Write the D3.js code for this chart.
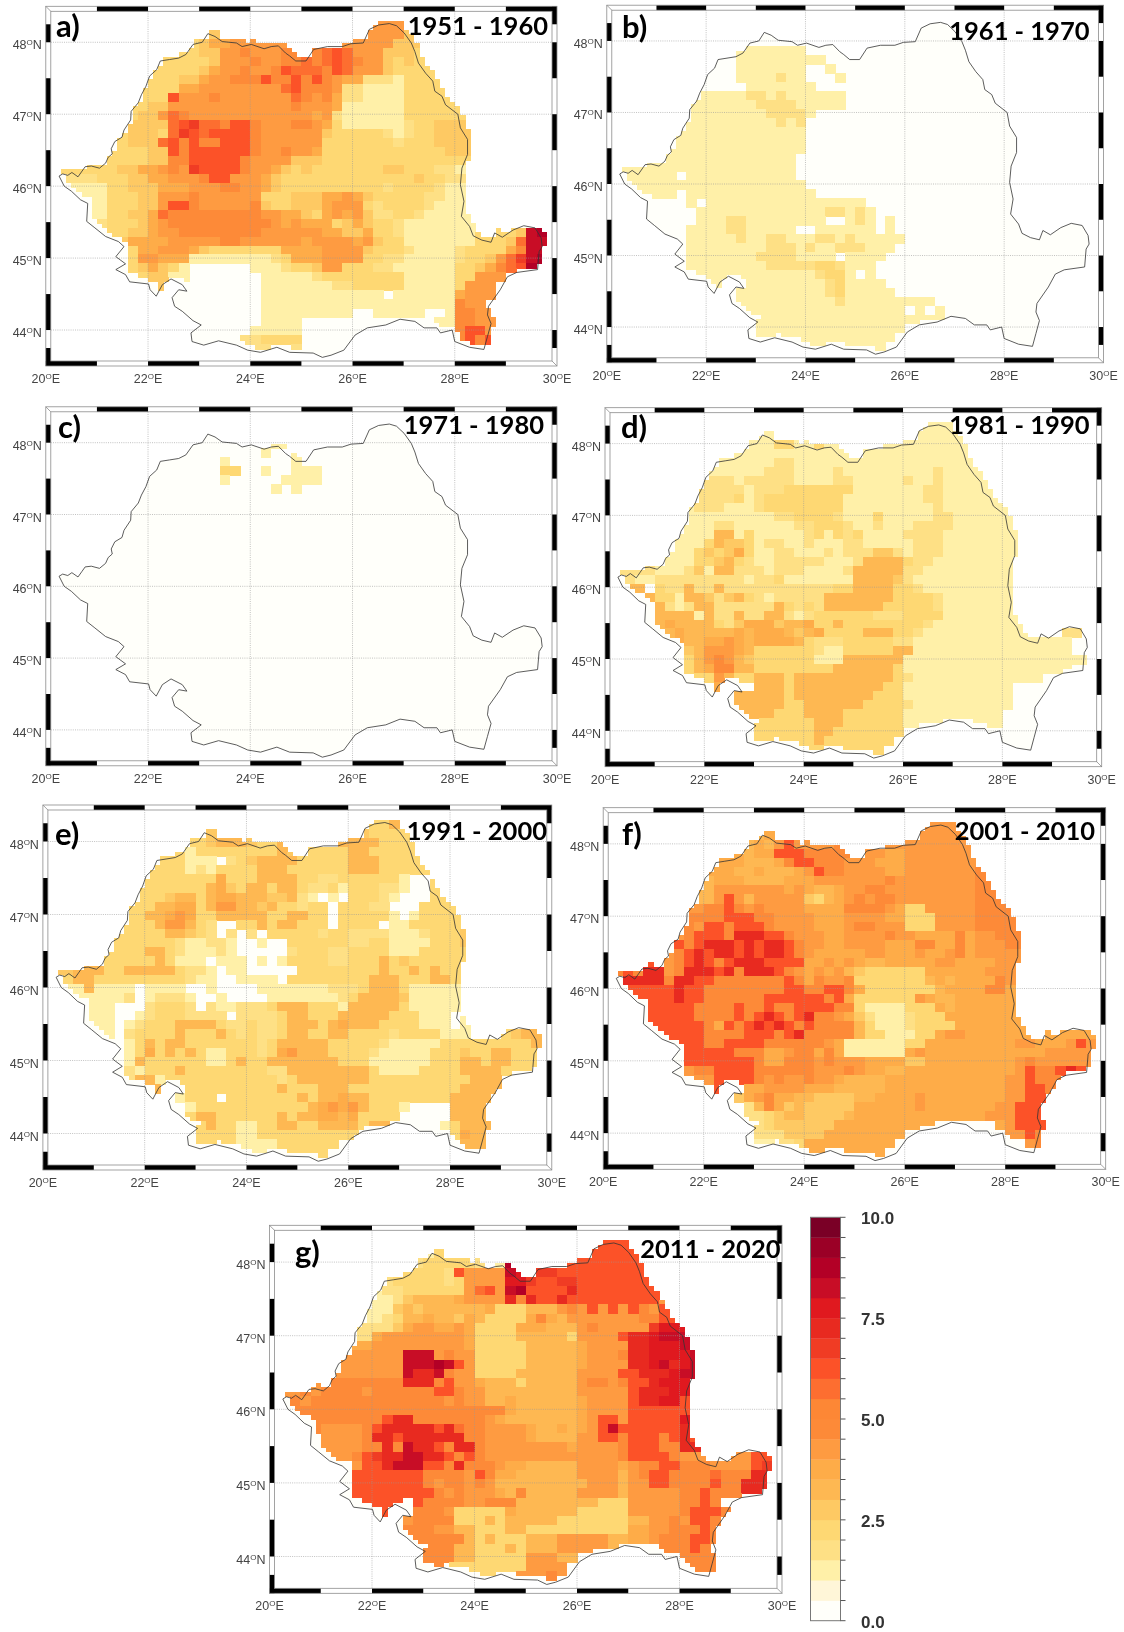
<!DOCTYPE html>
<html><head><meta charset="utf-8">
<script src="https://cdn.jsdelivr.net/npm/d3@7"></script>
<style>html,body{margin:0;padding:0;background:#fff}svg{display:block;filter:blur(0.35px)}</style>
</head><body><svg id="c" width="1124" height="1632"></svg>
<script>
const periods=["1951 - 1960","1961 - 1970","1971 - 1980","1981 - 1990","1991 - 2000","2001 - 2010","2011 - 2020"];
const letters=["a)","b)","c)","d)","e)","f)","g)"];
const levelColors=["#fffffa","#fff6d8","#fff0a8","#fee085","#fed873","#fec963","#feb852","#feac48","#fe9b41","#fd8a38","#fd8735","#fd6e30","#fc5228","#f03c24","#e82a20","#e0191f","#c80d26","#b30026","#9b0026","#7a0026"];
const colorbarLabels=[0,2.5,5,7.5,10];
const lonTicks=[20,22,24,26,28,30];
const latTicks=[44,45,46,47,48];
const outlineLon=[20.26,20.33,20.43,20.51,20.63,20.71,20.77,20.89,21.05,21.17,21.22,21.30,21.28,21.35,21.49,21.53,21.66,21.67,21.81,21.87,21.96,22.03,22.17,22.24,22.42,22.60,22.74,22.88,23.06,23.17,23.31,23.45,23.73,23.84,24.02,24.27,24.41,24.55,24.69,24.77,24.89,25.09,25.24,25.51,25.80,25.97,26.21,26.33,26.51,26.72,26.86,27.01,27.15,27.22,27.29,27.43,27.57,27.61,27.75,27.82,28.06,28.11,28.25,28.25,28.14,28.11,28.18,28.13,28.29,28.36,28.53,28.71,28.78,28.93,29.14,29.35,29.57,29.69,29.71,29.65,29.62,29.21,29.03,28.89,28.66,28.64,28.71,28.64,28.57,28.29,28.00,27.95,27.72,27.65,27.40,27.22,26.93,26.65,26.29,26.05,25.83,25.58,25.41,25.23,24.77,24.52,24.20,23.95,23.73,23.38,23.09,22.86,22.84,23.04,22.88,22.67,22.52,22.47,22.60,22.76,22.67,22.45,22.28,22.16,22.04,22.01,21.64,21.56,21.37,21.56,21.37,21.53,21.42,21.17,20.96,20.80,20.82,20.68,20.50,20.36];
const outlineLat=[46.14,46.17,46.15,46.19,46.13,46.21,46.27,46.28,46.25,46.32,46.40,46.45,46.52,46.62,46.68,46.78,46.92,47.04,47.16,47.27,47.39,47.53,47.62,47.74,47.76,47.78,47.83,47.97,48.00,48.12,48.08,48.01,47.99,47.94,47.97,47.91,47.94,47.95,47.85,47.81,47.74,47.74,47.90,47.94,47.94,47.98,47.99,48.18,48.24,48.26,48.23,48.13,47.99,47.87,47.71,47.57,47.46,47.32,47.25,47.13,47.00,46.81,46.65,46.44,46.25,46.02,45.79,45.58,45.44,45.31,45.25,45.22,45.35,45.29,45.39,45.45,45.42,45.28,45.16,45.09,44.84,44.80,44.74,44.56,44.33,44.21,44.09,43.91,43.73,43.76,43.84,44.00,43.96,44.03,44.03,44.12,44.15,44.07,44.03,43.93,43.72,43.65,43.62,43.68,43.69,43.76,43.69,43.72,43.79,43.85,43.79,43.84,43.96,44.07,44.13,44.26,44.33,44.45,44.56,44.54,44.63,44.71,44.63,44.47,44.56,44.64,44.67,44.77,44.84,44.92,45.02,45.16,45.23,45.30,45.42,45.51,45.76,45.81,45.93,46.00];

// Class index per block: rows from 48.3N southward, blocks = [20.2-21][21-22]...[29-29.8]E
const gridA=[
"0000 00000 00000 00000 00000 00000 08888",
"0000 00000 00000 05000 00000 00000 88888 50000",
"0000 00000 00044 57788 88880 00008 88885 55400",
"0000 00000 04444 55889 88899 09bcb 88855 54400",
"0000 00000 44444 45888 98899 b9bcb 98854 54440",
"0000 00000 44444 57889 889cb bb9cb 88854 44444",
"0000 00000 44455 78899 9c99c 9c987 73332 44444",
"0000 00004 44477 88888 888bc 99983 32222 44444 40000",
"0000 00004 44c88 89888 8888b 98973 32222 44444 44000",
"0000 00044 55888 88888 88889 88872 22222 44444 44400",
"0000 00445 58b98 88888 88888 87832 22222 44444 44500",
"0000 00455 55bcd bb9cc 98889 98742 22222 34455 55000",
"0000 04455 54bdc bcccc 98888 88544 44432 34455 55500",
"0000 04455 5bc9c 99ccc 98888 88444 44443 44455 55000",
"0000 44444 55c9c ccccc 98898 87444 44444 44445 55000",
"0000 44444 5599c cccc9 88885 55444 44444 44444 44000",
"4444 44557 7898d cccc9 88754 54444 44455 44433 22000",
"3333 44455 77888 9cc88 87544 44444 44444 45443 32000",
"0222 24455 57778 88998 87544 44444 44434 44432 22000",
"0022 24445 58889 88888 84445 55778 75444 44332 22000",
"0022 24445 58cc9 88888 95445 55788 84344 44322 22000",
"0002 24455 7b999 99999 98877 54787 85334 43222 22000",
"0002 34445 78999 99999 99878 77745 75443 22222 22000",
"0000 34455 78899 99999 98888 88775 57443 22222 22444 45gh",
"0000 34577 77888 88998 88888 78888 78544 22222 22444 5bgg",
"0000 00047 78887 54444 44477 77888 85444 32222 34444 79gg",
"0000 00048 87772 22222 22347 77888 84433 22222 34458 bdgh",
"0000 00045 75420 00000 22234 45884 44332 22222 44579 bchh",
"0000 00004 55220 00000 02222 23444 44444 22222 44888",
"0000 00000 05000 00000 02222 22233 44444 22222 48880",
"0000 00000 00000 00000 02222 22222 22202 22222 78880",
"0000 00000 00000 00000 02222 22222 22222 22222 98800",
"0000 00000 00000 00000 02222 22222 00222 22002 99880",
"0000 00000 00000 00000 02222 00000 00002 20022 99888",
"0000 00000 00000 00000 22222 00000 00000 00000 9cc88",
"0000 00000 00000 00003 34444 00000 00000 00000 9c9c0",
"0000 00000 00000 00000 33433 00000 00000 00000 00890",
"0"];
const gridB=[
"0","0","0",
"0000 00000 00022 22222",
"0000 00000 00022 22222 22000",
"0000 00000 00022 22222 00200",
"0000 00000 00022 22322 00020",
"0000 00000 00002 22222 20000",
"0000 00002 22223 32322 22220",
"0000 00022 22222 33332 22220",
"0000 00222 22222 23333 20000",
"0000 00222 22222 22323",
"0000 00222 22222 22222",
"0000 02222 22222 22222",
"0000 02222 22222 22222",
"0000 22222 22222 22220",
"2222 22222 22222 22220",
"2222 22022 22222 22220",
"2222 22222 22222 22222",
"0022 22022 22222 22222 20000",
"0000 00020 22222 22222 22222 20000",
"0000 00002 22222 22222 22332 32000",
"0000 00002 22332 22222 22002 32020",
"0000 00022 22332 22220 02222 22020",
"0000 00022 22232 23322 23323 22222",
"0000 00022 22222 23332 32233 32220",
"0000 00022 22222 33332 22202 22200",
"0000 00022 22222 23333 34432 22000",
"0000 00002 22222 22222 23442 02000",
"0000 00000 22202 22222 22342 22200",
"0000 00000 00022 22222 22342 22220",
"0000 00000 00022 22222 22232 22222 22200",
"0000 00000 00002 22222 22222 22222 02020",
"0000 00000 00000 22222 22222 22222 22220",
"0000 00000 00000 22222 22222 22222",
"0000 00000 00000 22222 22222 22220",
"0000 00000 00000 00000 22202 22200",
"0000 00000 00000 00000 00000 00220"];
const gridC=[
"0","0",
"0000 00000 00000 00000 00220",
"0000 00000 00000 00000 02002",
"0000 00000 00000 00200 00002",
"0000 00000 00000 00440 02002 22000",
"0000 00000 00000 00200 00022 22000",
"0000 00000 00000 00000 00202",
"0"];
const gridD=[
"0000 00000 00000 00000 00000 00000 00222",
"0000 00000 00000 22000 00000 00000 22222 22",
"0000 00000 00022 22442 24222 00022 22222 22200",
"0000 00000 02222 22222 22222 22222 22222 22220",
"0000 00000 22222 22332 22222 22222 22222 22220",
"0000 00002 22222 23332 22232 22222 22232 22222",
"0000 00003 33323 33332 22233 22222 32232 22222 2",
"0000 00023 33332 33344 44444 22222 22332 22222 22",
"0000 00023 33342 34444 44442 22222 22332 22222 22",
"0000 00023 33222 34444 44442 22222 22232 22222 22",
"0000 00222 22222 22334 44432 22422 22233 22222 20",
"0000 02222 23322 22223 34443 22322 23333 22222 22",
"0000 02222 26624 22222 34243 42222 33332 22222 22",
"0000 02222 46554 23322 32223 32222 23332 22222 22",
"0000 22224 54574 22332 22323 33553 23332 22222 22",
"2200 22224 45643 22333 33222 36666 43322 22222 2",
"3333 22235 26633 32333 22223 66666 33222 22222 2",
"0322 33333 33332 33422 22222 66665 32222 22222 2",
"0660 43363 36333 33333 33344 66664 43222 22222 2",
"0006 44266 53564 32333 33666 66664 44432 22222 2",
"0000 63236 63333 33643 43666 66644 44432 22222 22",
"0000 66662 63363 36632 34444 44333 44442 22222 22",
"0000 67666 64357 77566 74464 44444 44322 22222 22",
"0000 06766 66676 77765 67444 46664 43222 22222 22220 0330",
"0000 00766 77876 77776 43334 44443 32222 22222 22222 2200",
"0000 00056 88876 44444 43224 44446 62222 22222 22222 2200",
"0000 00046 89865 44444 42226 66666 22222 22222 22222 2222",
"0000 00046 79966 44444 44466 66664 22222 22222 22222 2200",
"0000 00004 48644 66646 66666 66664 32222 22222 22220",
"0000 00000 07000 66646 66666 66644 22222 22222 20000",
"0000 00000 00066 66646 66666 66444 22222 22222 20000",
"0000 00000 00066 66644 66666 64444 32222 22222 20000",
"0000 00000 00006 66444 66664 44444 22222 22222",
"0000 00000 00000 44444 46664 44444 22220 00222",
"0000 00000 00000 44444 46644 44444",
"0000 00000 00000 44444 46444 44440",
"0000 00000 00000 00000 44404 44400",
"0000 00000 00000 00000 00000 00440"];
const gridE=[
"0000 00000 00000 00000 00000 00000 00446",
"0000 00000 00000 05000 00000 00000 55444 44",
"0000 00000 00044 45666 54466 00006 66644 44400",
"0000 00000 04442 44444 44465 44444 66444 44440",
"0000 00000 44442 22034 56666 44444 66644 44440",
"0000 00004 44442 32444 46664 44444 66644 44444",
"0000 00044 44444 44744 46666 44334 44444 20044 4",
"0000 00044 44444 46754 66466 43342 44433 20044 44",
"0000 00444 44566 46776 66556 32020 44432 00044 44",
"0000 04444 46677 46886 65644 34404 44330 00444 44",
"0000 04444 66787 44666 66446 64404 44442 02444 44",
"0000 44444 46886 43004 46466 44404 44402 24444 45",
"0000 04444 44665 43030 30444 44344 33332 22344 45",
"0000 44444 44432 23320 02004 44444 33442 22244 45",
"0000 54444 66432 22320 00003 44433 44442 22444 44",
"5500 64444 46422 20222 02024 44433 44464 54444 44",
"5566 64466 66643 32022 00000 44444 44464 46464 44",
"4466 44444 44443 22002 22204 44444 44666 44466 44",
"2226 22220 22220 02000 02222 22233 34666 42222 22",
"0222 22230 23332 00200 00222 22223 46666 52222 22",
"0022 22000 34443 03223 33466 64442 66666 42222 22",
"0002 22002 34443 33303 33346 64446 66664 44222 02",
"0000 22023 44466 66433 43346 66467 66644 44222 02000",
"0000 02034 44464 44643 43346 64466 44443 44442 22000 4566",
"0000 00024 64664 44444 43466 66644 44432 22224 44444 4446",
"0000 00024 74646 42244 43478 66644 44322 22244 45446 6444",
"0000 00026 44444 42246 44666 66664 44222 22244 46646 6444",
"0000 00032 44464 44444 44336 66666 66422 22444 46666 4444",
"0000 00036 62444 44444 44434 66666 66444 44444 44666",
"0000 00000 06004 44444 44464 44666 44444 44444 46666",
"0000 00000 00024 44044 44444 64667 66444 44444 66660",
"0000 00000 00002 44444 44444 46787 86444 20000 66660",
"0000 00000 00004 66444 44464 66776 74444 00000 66660",
"0000 00000 00000 46442 24466 44666 64664 20002 46660",
"0000 00000 00000 44442 24444 44444 42200 00000 47660",
"0000 00000 00000 44442 22244 44440 00000 00000 06660",
"0000 00000 00000 00000 22204 44400 00000 00000 00060",
"0000 00000 00000 00000 00000 00440"];
const gridF=[
"0000 00000 00000 00000 00000 00000 00888",
"0000 00000 00000 67000 00000 00000 88888 88",
"0000 00000 00066 768c8 88898 00088 88888 88800",
"0000 00000 07776 77ccc 99999 98877 88888 88880",
"0000 00000 77776 6679c c9998 88777 88888 88888",
"0000 00007 77766 76667 8c998 88877 88888 88999 9",
"0000 00066 67776 66677 78888 88898 88888 88999 99",
"0000 00066 68888 88878 76678 89988 88888 88999 99",
"0000 00666 68c86 88888 54678 98998 88888 88999 99",
"0000 08888 99c98 98888 77779 99987 44888 88999 99",
"0000 88899 99ccc 99888 87778 88877 44488 88999 99",
"0000 88898 cc9cc c9888 87778 99888 44488 88999 999",
"0000 8889c cc9ee ecc98 88778 88898 87777 97889 999",
"0000 88c9c eeece ceec9 88778 88877 79977 97888 99",
"0000 789ce ceece ceec9 87777 78877 78778 97888 88",
"000c c89ce c9cee ecccc 77878 76677 77788 77778 88",
"9c9e e89ee ece9e eec98 78786 54444 44777 77788 88",
"ceee e9eec c9999 999c9 79889 44444 44676 77779 88",
"0ccc ccecc 99999 999cc 99cc9 74444 44467 77799 7",
"00cc ccecc 99999 9cccc cc9c7 44444 48766 77777 77",
"000c cccc9 999c9 9c99c ccc99 42222 44476 77777 77",
"000c cccc9 999c9 cec9c e9987 53222 34447 77777 77",
"000c ccccc 97c9c ecec9 c9999 64222 34444 77777 77",
"0000 ccccc 9999c cc9ce 99999 64422 24478 87777 77777 7777",
"0000 0cccc 99ccc c9999 99872 22222 44777 77777 78877 78c8",
"0000 000cc ccc99 97789 97972 22222 78777 77777 77778 8888",
"0000 000cc ccccc 97799 98988 87777 55777 77777 78988 8888",
"0000 00089 9cccc 99999 98889 87766 77777 77777 78c99 cecc",
"0000 00008 8cccc 98988 98876 66677 77777 77777 88c99 9c00",
"0000 00000 0c007 78888 77766 66677 77777 77777 88cc9",
"0000 00000 00057 89776 65555 66777 78777 77777 88cc0",
"0000 00000 00003 69756 55555 77777 78777 77778 8ccc0",
"0000 00000 00003 34566 55556 77777 77777 77788 8ccc0",
"0000 00000 00000 34555 55577 77777 77700 00007 8ccc0",
"0000 00000 00000 33355 55777 77777 00000 00000 88c90",
"0000 00000 00000 22334 77777 77770 00000 00000 00890",
"0000 00000 00000 00000 77707 77700 00000 00000 00090",
"0000 00000 00000 00000 00000 00770"];
const gridG=[
"0000 00000 00000 00000 00000 00000 0cccc",
"0000 00000 00000 24000 00000 00000 ccccc c0",
"0000 00000 00003 44444 302h0 0000c ccccc cc000",
"0000 00000 03444 443c8 888gf cddcc ccccc ccc00",
"0000 00000 33444 44348 888ff dccdd ccccc cccc0",
"0000 00002 23344 44448 bc8gh cccce ccccc cccc8",
"0000 00022 22356 66678 888e9 eccec ccccc ccc89 9",
"0000 00022 22565 66666 67444 66689 8c8c8 c98cc c0",
"0000 00222 23466 76657 64444 79768 88888 899cc cc0",
"0000 00233 33578 87787 44447 77666 89888 88dff f",
"0000 00333 78888 88887 44446 66664 8888c eefgg g",
"0000 03477 88888 88887 44444 66666 78888 eefff gf",
"0000 78888 888gg g8988 44444 66666 78889 eefff fg",
"0000 67888 888gg ghgc8 44444 66666 78888 eefge fg",
"0000 78888 888ge eg988 44446 66666 8888c ceeef gg",
"0098 89999 999ee e9c88 76664 66666 89989 cceff f",
"8898 99998 99999 9cc98 86666 66666 88888 ceeef f",
"8989 99999 99999 99898 86676 66666 78888 ceeff c",
"0999 99999 99999 99999 99976 66666 78888 ccccc c",
"0009 99999 9cee9 99999 98766 66666 78cc8 ccccc fc",
"0009 88889 ceeee eceb9 98888 76676 78cgc ccccc ec",
"0000 88889 eecee eeee9 98888 76666 88cc9 ccc9c ec",
"0000 88889 9e9ge ec9ee 98888 88887 88889 ccc99 ee",
"0000 0889c deegg eec9c 98888 88888 88889 cccc9 88880 88cc",
"0000 0008c ceggg cc9e9 99877 66666 88887 899cc 99988 88cd",
"0000 000cc ccccc 99998 c9776 66666 88886 89cc9 999b9 99ee",
"0000 000cc ccccc 98998 98666 66666 68886 88cc9 999c9 9eee",
"0000 000cc ccccc c9898 88769 66666 88886 88888 99c99 9eee",
"0000 0000c ccc0c 99998 89996 66666 66444 88888 99c90",
"0000 00000 0c009 99844 44476 66666 44444 88888 9ccc9",
"0000 00000 00089 99944 46466 66644 44444 66889 8cc90",
"0000 00000 00099 98866 44466 44444 44444 77889 99c90",
"0000 00000 00009 99996 46444 66688 88866 77899 9cc90",
"0000 00000 00000 99966 44464 66688 88866 77099 9c900",
"0000 00000 00000 99966 44444 88866 00000 00000 99990",
"0000 00000 00000 09444 44444 88880 00000 00000 09990",
"0000 00000 00000 00000 44408 88980 00000 00000 00090",
"0000 00000 00000 00000 00000 00880"];
const grids=[gridA,gridB,gridC,gridD,gridE,gridF,gridG];

// layout of the seven map frames (pixels)
const boxes=[
 {l:45.8,r:557,t:6.3,b:366, tr:548,ty:35, lx:56,ly:37},
 {l:606.8,r:1103.5,t:5.2,b:362.8, tr:1089.5,ty:40, lx:622,ly:38},
 {l:45.8,r:557,t:406.8,b:765.8, tr:544,ty:434, lx:58,ly:438},
 {l:605,r:1101.7,t:407.7,b:766.7, tr:1089.5,ty:434, lx:621,ly:438},
 {l:42.9,r:551.8,t:805,b:1170, tr:547,ty:840, lx:55,ly:845},
 {l:603.2,r:1105.7,t:807.7,b:1169.3, tr:1095,ty:840, lx:622,ly:845},
 {l:269.5,r:782,t:1225.3,b:1593.3, tr:780.5,ty:1258, lx:295,ly:1263}
];
const band=5, shiftLon=0.07, shiftLat=0.06;
const blockSizes=[4,5,5,5,5,5,5,5,5,4];
const outline=outlineLon.map((d,i)=>[d,outlineLat[i]]);
const svg=d3.select("#c");

function parseGrid(rows){
  const out=[];
  for(let k=0;k<38;k++){
    const blocks=(rows[k]||"0").split(" ");
    out.push(blockSizes.map((n,i)=>(blocks[i]||"").padEnd(n,"0").slice(0,n)).join(""));
  }
  return out;
}
function drawPanel(idx){
  const b=boxes[idx];
  const x=d3.scaleLinear().domain([20,30]).range([b.l,b.r]);
  const y=d3.scaleLinear().domain([43.5,48.5]).range([b.b,b.t]);
  const rows=parseGrid(grids[idx]);
  const g=svg.append("g");
  const pathGen=d3.line().x(d=>x(d[0])).y(d=>y(d[1])).curve(d3.curveLinearClosed);
  g.append("path").attr("d",pathGen(outline)).attr("fill",levelColors[0]);
  const cells=[];
  for(let j=0;j<76;j++)for(let i=0;i<96;i++){
    const lon=20.2+0.1*i, lat=48.3-0.0625*j;
    const r=rows[Math.floor(j/2)];
    if(!d3.polygonContains(outline,[lon+0.05-shiftLon,lat-0.031-shiftLat])) continue;
    const v=parseInt(r[Math.floor(i/2)],20);
    if(v>0) cells.push({lon,lat,v});
  }
  g.append("g").attr("shape-rendering","crispEdges").selectAll("rect").data(cells).join("rect")
    .attr("x",d=>x(d.lon)).attr("y",d=>y(d.lat))
    .attr("width",d=>x(d.lon+0.1)-x(d.lon)+0.6)
    .attr("height",d=>y(d.lat-0.0625)-y(d.lat)+0.6)
    .attr("fill",d=>levelColors[d.v]);
  // graticule
  const grid=g.append("g").attr("stroke","#999").attr("stroke-width",0.6).attr("stroke-dasharray","1 1.2");
  lonTicks.slice(1,-1).forEach(v=>grid.append("line").attr("x1",x(v)).attr("x2",x(v)).attr("y1",b.t+band).attr("y2",b.b-band));
  latTicks.forEach(v=>grid.append("line").attr("x1",b.l+band).attr("x2",b.r-band).attr("y1",y(v)).attr("y2",y(v)));
  // country outline
  g.append("path").attr("d",pathGen(outline)).attr("fill","none").attr("stroke","#333").attr("stroke-width",0.8);
  // checker frame
  const black=[];
  for(let v=20;v<30;v+=2){black.push({x0:x(v),x1:x(v+1),y0:b.b-band,y1:b.b});black.push({x0:x(v+1),x1:x(v+2),y0:b.t,y1:b.t+band});}
  const leftSeg=[[43.5,43.75],[44,44.5],[45,45.5],[46,46.5],[47,47.5],[48,48.25]];
  const rightSeg=[[43.75,44],[44.5,45],[45.5,46],[46.5,47],[47.5,48],[48.25,48.5]];
  leftSeg.forEach(s=>black.push({x0:b.l,x1:b.l+band,y0:y(s[1]),y1:y(s[0])}));
  rightSeg.forEach(s=>black.push({x0:b.r-band,x1:b.r,y0:y(s[1]),y1:y(s[0])}));
  g.append("g").selectAll("rect").data(black).join("rect")
    .attr("x",d=>d.x0).attr("y",d=>d.y0).attr("width",d=>d.x1-d.x0).attr("height",d=>d.y1-d.y0).attr("fill","#000");
  g.append("rect").attr("x",b.l).attr("y",b.t).attr("width",b.r-b.l).attr("height",b.b-b.t).attr("fill","none").attr("stroke","#8c8c8c").attr("stroke-width",0.8);
  g.append("rect").attr("x",b.l+band).attr("y",b.t+band).attr("width",b.r-b.l-2*band).attr("height",b.b-b.t-2*band).attr("fill","none").attr("stroke","#8c8c8c").attr("stroke-width",0.8);
  g.append("line").attr("x1",b.l).attr("y1",b.t).attr("x2",b.l+band).attr("y2",b.t+band).attr("stroke","#8c8c8c").attr("stroke-width",0.8);
  g.append("line").attr("x1",b.r).attr("y1",b.b).attr("x2",b.r-band).attr("y2",b.b-band).attr("stroke","#8c8c8c").attr("stroke-width",0.8);
  // tick labels
  const lab=(sel,v,suf)=>{sel.text(v);sel.append("tspan").attr("dy",-4).attr("font-size",8).text("O");sel.append("tspan").attr("dy",4).text(suf);};
  lonTicks.forEach(v=>{lab(g.append("text").attr("x",x(v)).attr("y",b.b+17).attr("text-anchor","middle").attr("font-family","Liberation Sans").attr("font-size",12.5).attr("fill","#444"),v,"E");});
  latTicks.forEach(v=>{lab(g.append("text").attr("x",b.l-4).attr("y",y(v)+7).attr("text-anchor","end").attr("font-family","Liberation Sans").attr("font-size",12.5).attr("fill","#444"),v,"N");});
  // titles
  g.append("text").attr("x",b.tr).attr("y",b.ty).attr("text-anchor","end").attr("font-family","Lato").attr("font-weight",700).attr("font-size",25.5).attr("fill","#000").text(periods[idx]);
  g.append("text").attr("x",b.lx).attr("y",b.ly).attr("font-family","Lato").attr("font-weight",700).attr("font-size",31).attr("fill","#000").text(letters[idx]);
}
grids.forEach((_,i)=>drawPanel(i));

// colour bar
const cbY=d3.scaleLinear().domain([0,10]).range([1620.7,1217.3]);
const cb=svg.append("g");
cb.selectAll("rect").data(levelColors).join("rect")
  .attr("x",810.5).attr("width",30).attr("y",(d,i)=>cbY((i+1)/2)).attr("height",(d,i)=>cbY(i/2)-cbY((i+1)/2)+0.3).attr("fill",d=>d);
cb.append("rect").attr("x",810.5).attr("y",1217.3).attr("width",30).attr("height",403.4).attr("fill","none").attr("stroke","#777").attr("stroke-width",1);
cb.selectAll("line").data(d3.range(0,21).map(d=>d/2)).join("line")
  .attr("x1",840.5).attr("x2",845.5).attr("y1",d=>cbY(d)).attr("y2",d=>cbY(d)).attr("stroke","#555").attr("stroke-width",1);
cb.selectAll("text").data(colorbarLabels).join("text")
  .attr("x",861).attr("y",d=>cbY(d)+7).attr("font-family","Liberation Sans").attr("font-weight",700).attr("font-size",17).attr("fill","#333").text(d=>d.toFixed(1));
</script></body></html>
